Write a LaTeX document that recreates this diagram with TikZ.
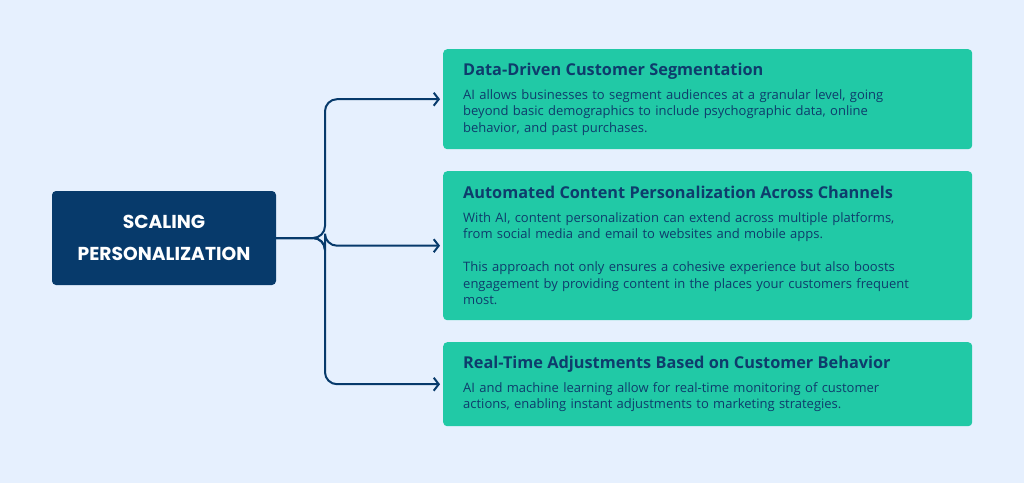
\documentclass[tikz,border=0pt]{standalone}
\usepackage{fontspec}
\setmainfont{Open Sans}
\newfontfamily\headfont{Poppins}
\usetikzlibrary{arrows.meta,positioning}

\definecolor{bgblue}{RGB}{230,240,254}
\definecolor{navy}{RGB}{7,58,107}
\definecolor{teal}{RGB}{33,201,166}
\definecolor{inktext}{RGB}{14,60,108}

\tikzset{
  hub/.style={fill=navy, rounded corners=4pt, text=white, align=center,
    minimum width=224pt, minimum height=94pt, inner sep=0pt,
    font=\headfont\bfseries\fontsize{18.7}{31.5}\selectfont},
  card/.style={fill=teal, rounded corners=4pt, text=inktext, align=left,
    text width=489pt, inner xsep=20pt, inner ysep=0pt, anchor=north west,
    font=\fontsize{13}{16.5}\selectfont},
  link/.style={draw=navy, line width=2pt, rounded corners=12pt,
    -{Straight Barb[length=5pt,width=13pt,line width=2pt]}, shorten >=3pt}
}
\newcommand{\cardtitle}[1]{{\bfseries\fontsize{16.3}{18}\selectfont #1}\\[7pt]}

\begin{document}
\begin{tikzpicture}[x=1pt,y=-1pt]
  % Define canvas
  \fill[bgblue] (0,0) rectangle (1024,483);
  \useasboundingbox (0,0) rectangle (1024,483);

  % Central box
  \node[hub] (scale) at (164,238) {SCALING\\PERSONALIZATION};

  % Three cards
  \node[card, minimum height=100pt] (seg) at (443,49) {%
    \cardtitle{Data-Driven Customer Segmentation}
    AI allows businesses to segment audiences at a granular level, going\\
    beyond basic demographics to include psychographic data, online\\
    behavior, and past purchases.};
  \node[card, minimum height=149pt] (auto) at (443,171) {%
    \cardtitle{Automated Content Personalization Across Channels}
    With AI, content personalization can extend across multiple platforms,\\
    from social media and email to websites and mobile apps.\\[16.5pt]
    This approach not only ensures a cohesive experience but also boosts\\
    engagement by providing content in the places your customers frequent\\
    most.};
  \node[card, minimum height=84pt] (rt) at (443,342) {%
    \cardtitle{Real-Time Adjustments Based on Customer Behavior}
    AI and machine learning allow for real-time monitoring of customer\\
    actions, enabling instant adjustments to marketing strategies.};

  % Fork point and connectors
  \coordinate (fork) at (325,238);
  \foreach \target in {seg,auto,rt} {
    \draw[link] (scale.east) -- (fork) |- (\target.west);
  }
\end{tikzpicture}
\end{document}
